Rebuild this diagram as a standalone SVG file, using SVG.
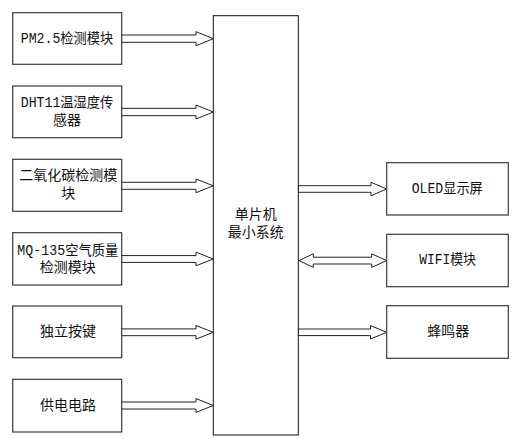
<svg xmlns="http://www.w3.org/2000/svg" width="512" height="439" viewBox="0 0 512 439">
<style>
.box{fill:#fff;stroke:#3a3a3a;stroke-width:1.2}
.main{fill:#fff;stroke:#111;stroke-width:1}
.arr{fill:#fff;stroke:#222;stroke-width:1}
text{font-family:"Liberation Mono","Noto Sans CJK SC",sans-serif;font-size:14px;fill:#111;text-anchor:middle;dominant-baseline:central}
</style>
<rect width="512" height="439" fill="#fff"/>
<g id="connectors">
<polygon class="arr" points="121.5,35 196,35 196,31.7 213.3,38.7 196,45.7 196,42.3 121.5,42.3"/>
<polygon class="arr" points="121.5,108.3 196,108.3 196,105 213.3,112 196,119 196,115.7 121.5,115.7"/>
<polygon class="arr" points="121.5,182.3 196,182.3 196,179 213.3,185.8 196,192.7 196,189.3 121.5,189.3"/>
<polygon class="arr" points="121.5,255.6 196,255.6 196,252.2 213.3,259 196,265.8 196,262.4 121.5,262.4"/>
<polygon class="arr" points="121.5,328.9 196,328.9 196,325.5 213.3,332.3 196,339.1 196,335.7 121.5,335.7"/>
<polygon class="arr" points="121.5,402 196,402 196,398.6 213.3,405.5 196,412.4 196,409 121.5,409"/>
<polygon class="arr" points="298.3,185.7 371,185.7 371,182.3 386.7,189 371,195.7 371,192.3 298.3,192.3"/>
<polygon class="arr" points="299,260.6 313.3,253.8 313.3,257.2 371.7,257.2 371.7,253.8 386.7,260.6 371.7,267.4 371.7,264 313.3,264 313.3,267.4"/>
<polygon class="arr" points="298.3,329 370.5,329 370.5,325.6 386.7,332.3 370.5,339 370.5,335.6 298.3,335.6"/>
</g>
<g id="pm25"><rect class="box" x="12.7" y="12.7" width="109" height="51.6"/><text x="67" y="38.5" textLength="92.6" lengthAdjust="spacingAndGlyphs">PM2.5检测模块</text></g>
<g id="dht11"><rect class="box" x="12.7" y="86" width="109" height="51.7"/><text x="67" y="103" textLength="92.6" lengthAdjust="spacingAndGlyphs">DHT11温湿度传</text><text x="67" y="121">感器</text></g>
<g id="co2"><rect class="box" x="12.7" y="159.3" width="109" height="52"/><text x="68.3" y="176">二氧化碳检测模</text><text x="68.3" y="194">块</text></g>
<g id="mq135"><rect class="box" x="12.7" y="232.7" width="109" height="52.3"/><text x="67.8" y="250.7" textLength="101" lengthAdjust="spacingAndGlyphs">MQ-135空气质量</text><text x="67.8" y="268.3">检测模块</text></g>
<g id="key"><rect class="box" x="12.7" y="306" width="109" height="51.7"/><text x="68" y="332.3">独立按键</text></g>
<g id="power"><rect class="box" x="12.7" y="379.3" width="109" height="52.7"/><text x="68" y="405.7">供电电路</text></g>
<g id="mcu"><rect class="main" x="213.3" y="15.7" width="85" height="419.3"/><text x="255.8" y="215">单片机</text><text x="255.8" y="233">最小系统</text></g>
<g id="oled"><rect class="box" x="386.7" y="162.7" width="121.6" height="52.3"/><text x="447.2" y="189" textLength="71" lengthAdjust="spacingAndGlyphs">OLED显示屏</text></g>
<g id="wifi"><rect class="box" x="386.7" y="234.3" width="121.6" height="52.4"/><text x="447.6" y="260" textLength="56.7" lengthAdjust="spacingAndGlyphs">WIFI模块</text></g>
<g id="buzzer"><rect class="box" x="386.7" y="305.7" width="121.6" height="52.6"/><text x="448.3" y="332.3">蜂鸣器</text></g>
</svg>
